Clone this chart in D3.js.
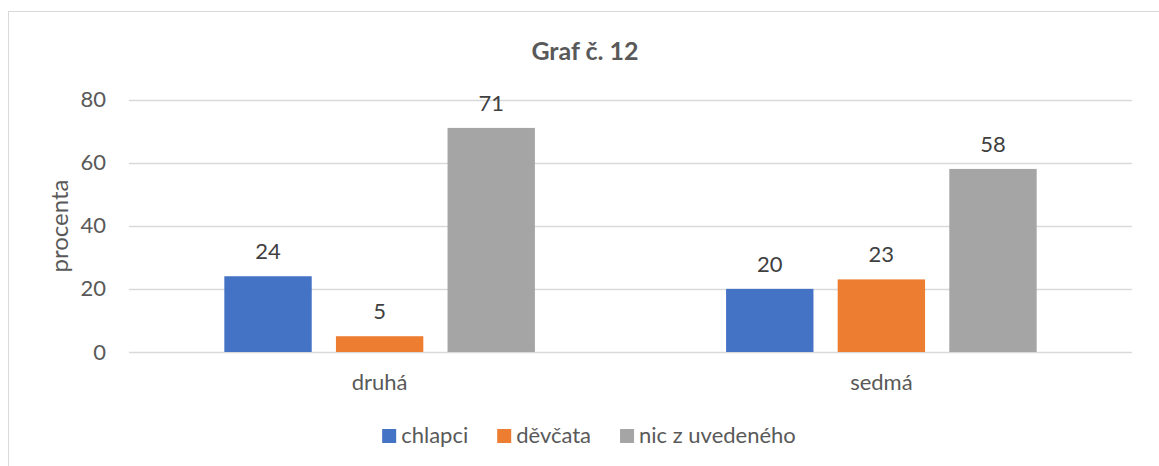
<!DOCTYPE html>
<html>
<head>
<meta charset="utf-8">
<script src="https://cdn.jsdelivr.net/npm/d3@7"></script>
<style>
  body { margin: 0; background: #fff; }
  svg text { font-family: Lato, 'Open Sans', sans-serif; fill: #595959; }
</style>
</head>
<body>
<div id="app"></div>
<script>
'use strict'

// data
const categories = ['druhá', 'sedmá']
const seriesNames = ['chlapci', 'děvčata', 'nic z uvedeného']
const chlapci = [24, 20]
const devcata = [5, 23]
const nicZUvedeneho = [71, 58]
const yTicks = [0, 20, 40, 60, 80]

const seriesColors = ['#4472c4', '#ed7d31', '#a5a5a5']
const seriesValues = [chlapci, devcata, nicZUvedeneho]

const setWidth = 1159
const setHeight = 466

const plot = { left: 129, right: 1132, top: 99.5, bottom: 352 }

const svg = d3.select('#app')
  .append('svg')
  .attr('width', setWidth)
  .attr('height', setHeight)

// outer chart frame
svg.append('rect')
  .attr('x', 8.5)
  .attr('y', 11.5)
  .attr('width', 1160)
  .attr('height', 470)
  .attr('fill', 'none')
  .attr('stroke', '#d9d9d9')

const scaleX = d3.scaleBand()
  .domain(categories)
  .range([plot.left, plot.right])
  .paddingInner(0.381)
  .paddingOuter(0.19)

const scaleSeries = d3.scaleBand()
  .domain(seriesNames)
  .range([0, scaleX.bandwidth()])
  .paddingInner(0.217)

const scaleY = d3.scaleLinear()
  .domain([0, 80])
  .range([plot.bottom, plot.top])

// gridlines
svg.append('g')
  .selectAll('line')
  .data(yTicks)
  .enter()
  .append('line')
  .attr('x1', plot.left)
  .attr('x2', plot.right)
  .attr('y1', d => Math.round(scaleY(d)) + 0.5)
  .attr('y2', d => Math.round(scaleY(d)) + 0.5)
  .attr('stroke', '#d9d9d9')
  .attr('stroke-width', 1.3)

// y axis labels
const yAxis = svg.append('g')
  .attr('transform', `translate(${plot.left - 23},0)`)
  .call(d3.axisLeft(scaleY).tickValues(yTicks).tickSize(0).tickPadding(0))
yAxis.select('.domain').remove()
yAxis.selectAll('text')
  .style('font-size', '22px')
  .attr('fill', null)

// x axis labels
const xAxis = svg.append('g')
  .attr('transform', `translate(0,${plot.bottom + 22})`)
  .call(d3.axisBottom(scaleX).tickSize(0).tickPadding(0))
xAxis.select('.domain').remove()
xAxis.selectAll('text')
  .style('font-size', '22px')
  .attr('fill', null)

// bars
const rows = []
categories.forEach((c, ci) => {
  seriesNames.forEach((s, si) => {
    rows.push({ cat: c, series: s, value: seriesValues[si][ci], color: seriesColors[si] })
  })
})

const groups = svg.append('g')
groups.selectAll('rect')
  .data(rows)
  .enter()
  .append('rect')
  .attr('x', d => scaleX(d.cat) + scaleSeries(d.series))
  .attr('width', scaleSeries.bandwidth())
  .attr('y', d => scaleY(d.value))
  .attr('height', d => scaleY(0) - scaleY(d.value))
  .attr('fill', d => d.color)

groups.selectAll('text')
  .data(rows)
  .enter()
  .append('text')
  .attr('x', d => scaleX(d.cat) + scaleSeries(d.series) + scaleSeries.bandwidth() / 2)
  .attr('y', d => scaleY(d.value) - 17)
  .attr('text-anchor', 'middle')
  .style('font-size', '22px')
  .style('fill', '#404040')
  .text(d => d.value)

// title
svg.append('text')
  .attr('x', 585)
  .attr('y', 60)
  .attr('text-anchor', 'middle')
  .style('font-size', '25px')
  .style('font-weight', 'bold')
  .text('Graf č. 12')

// y axis title
svg.append('text')
  .attr('transform', `translate(68,226) rotate(-90)`)
  .attr('text-anchor', 'middle')
  .style('font-size', '24px')
  .text('procenta')

// legend
const legendGap = 29
const legend = svg.append('g')
let lx = 0
seriesNames.forEach((s, i) => {
  const item = legend.append('g').attr('transform', `translate(${lx},0)`)
  item.append('rect')
    .attr('x', 0)
    .attr('y', -14)
    .attr('width', 14)
    .attr('height', 14)
    .attr('fill', seriesColors[i])
  const t = item.append('text')
    .attr('x', 19)
    .attr('y', 0)
    .style('font-size', '22px')
    .text(s)
  lx += 19 + t.node().getComputedTextLength() + legendGap
})
lx -= legendGap
legend.attr('transform', `translate(${589 - lx / 2},443)`)
</script>
</body>
</html>
